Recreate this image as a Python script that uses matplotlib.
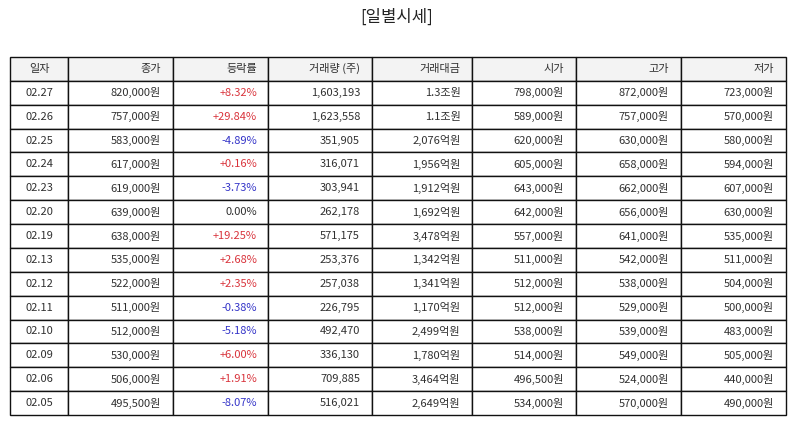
import matplotlib
matplotlib.use("Agg")
import matplotlib.pyplot as plt

plt.rcParams['font.family'] = ['Noto Sans CJK KR', 'DejaVu Sans']

title = "[일별시세]"
columns = ["일자", "종가", "등락률", "거래량 (주)", "거래대금", "시가", "고가", "저가"]
dates = ["02.27", "02.26", "02.25", "02.24", "02.23", "02.20", "02.19",
         "02.13", "02.12", "02.11", "02.10", "02.09", "02.06", "02.05"]
close = [820000, 757000, 583000, 617000, 619000, 639000, 638000,
         535000, 522000, 511000, 512000, 530000, 506000, 495500]
change = [8.32, 29.84, -4.89, 0.16, -3.73, 0.00, 19.25,
          2.68, 2.35, -0.38, -5.18, 6.00, 1.91, -8.07]
volume = [1603193, 1623558, 351905, 316071, 303941, 262178, 571175,
          253376, 257038, 226795, 492470, 336130, 709885, 516021]
amount = ["1.3조원", "1.1조원", "2,076억원", "1,956억원", "1,912억원", "1,692억원", "3,478억원",
          "1,342억원", "1,341억원", "1,170억원", "2,499억원", "1,780억원", "3,464억원", "2,649억원"]
open_ = [798000, 589000, 620000, 605000, 643000, 642000, 557000,
         511000, 512000, 512000, 538000, 514000, 496500, 534000]
high = [872000, 757000, 630000, 658000, 662000, 656000, 641000,
        542000, 538000, 529000, 539000, 549000, 524000, 570000]
low = [723000, 570000, 580000, 594000, 607000, 630000, 535000,
       511000, 504000, 500000, 483000, 505000, 440000, 490000]

W, H = 794, 425
fig = plt.figure(figsize=(W / 100, H / 100), dpi=100)
ax = fig.add_axes([0, 0, 1, 1])
ax.axis('off')

def won(v):
    return f"{v:,}원"

def pct(v):
    if v > 0:
        return f"+{v:.2f}%"
    return f"{v:.2f}%"

rows = []
for i in range(len(dates)):
    rows.append([dates[i], won(close[i]), pct(change[i]), f"{volume[i]:,}",
                 amount[i], won(open_[i]), won(high[i]), won(low[i])])

col_px = [58, 105, 95, 104, 100, 104, 105, 105]
total = sum(col_px)
col_widths = [c / total for c in col_px]

left, right, top, bottom = 10, 786, 57, 415
tbl = ax.table(cellText=rows, colLabels=columns, colWidths=col_widths,
               bbox=[left / W, 1 - bottom / H, (right - left) / W, (bottom - top) / H])
tbl.auto_set_font_size(False)

red = '#d9343c'
blue = '#3434c8'
for (r, c), cell in tbl.get_celld().items():
    cell.set_edgecolor('#111111')
    cell.set_linewidth(1.0)
    cell.PAD = 0.115 if c > 0 else 0.1
    txt = cell.get_text()
    txt.set_fontsize(8.0)
    txt.set_color('#303030')
    if c == 0:
        txt.set_horizontalalignment('center')
        cell._loc = 'center'
    else:
        txt.set_horizontalalignment('right')
        cell._loc = 'right'
    if r == 0:
        cell.set_facecolor('#f3f3f3')
    else:
        cell.set_facecolor('white')
        if c == 2:
            v = change[r - 1]
            if v > 0:
                txt.set_color(red)
            elif v < 0:
                txt.set_color(blue)

fig.text(0.5, 1 - 17 / H, title, ha='center', va='center', fontsize=12, color='#222222')

fig.savefig('out.png', dpi=100, facecolor='white')
